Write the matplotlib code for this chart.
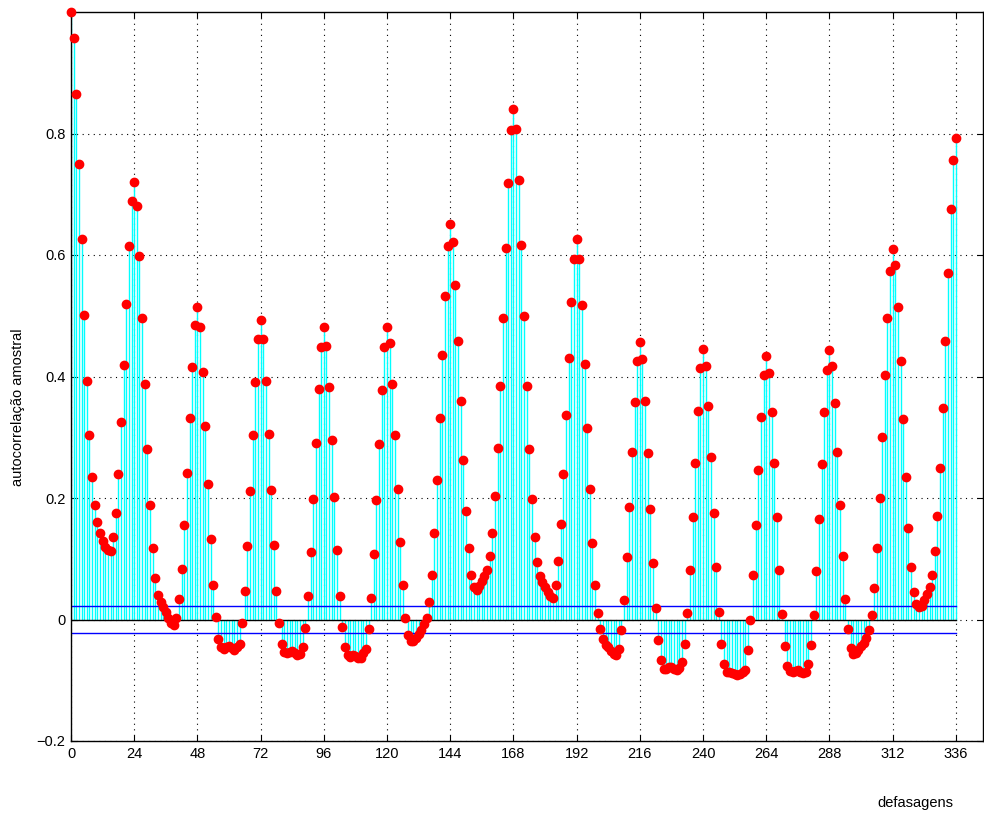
import matplotlib
matplotlib.use("Agg")
import matplotlib.pyplot as plt
import numpy as np

plt.rcParams['font.family'] = ['Liberation Sans', 'DejaVu Sans']

# sample autocorrelation, lags 0..336
acf_0_47 = [1.000, 0.957, 0.865, 0.750, 0.626, 0.502, 0.393, 0.303, 0.235, 0.189,
            0.160, 0.143, 0.130, 0.120, 0.114, 0.113, 0.135, 0.176, 0.240, 0.325,
            0.419, 0.520, 0.614, 0.689, 0.720, 0.681, 0.598, 0.496, 0.387, 0.281,
            0.189, 0.118, 0.069, 0.040, 0.028, 0.020, 0.012, 0.003, -0.005, -0.009,
            0.002, 0.033, 0.083, 0.155, 0.241, 0.331, 0.416, 0.485]
acf_48_95 = [0.515, 0.481, 0.408, 0.319, 0.223, 0.133, 0.057, 0.004, -0.032, -0.046,
             -0.048, -0.046, -0.043, -0.047, -0.051, -0.046, -0.040, -0.006, 0.047, 0.121,
             0.211, 0.303, 0.391, 0.461, 0.493, 0.462, 0.393, 0.305, 0.213, 0.123,
             0.047, -0.006, -0.040, -0.053, -0.055, -0.053, -0.052, -0.055, -0.058, -0.057,
             -0.045, -0.014, 0.038, 0.111, 0.199, 0.291, 0.379, 0.449]
acf_96_143 = [0.481, 0.451, 0.382, 0.296, 0.202, 0.114, 0.039, -0.013, -0.046, -0.058,
              -0.062, -0.058, -0.060, -0.063, -0.063, -0.055, -0.048, -0.016, 0.035, 0.108,
              0.196, 0.289, 0.377, 0.448, 0.481, 0.455, 0.388, 0.304, 0.215, 0.128,
              0.056, 0.003, -0.025, -0.035, -0.036, -0.030, -0.024, -0.017, -0.008, 0.003,
              0.028, 0.074, 0.143, 0.229, 0.331, 0.435, 0.533, 0.614]
acf_144_191 = [0.651, 0.621, 0.550, 0.459, 0.360, 0.263, 0.179, 0.117, 0.074, 0.054,
               0.049, 0.055, 0.063, 0.072, 0.081, 0.104, 0.143, 0.204, 0.283, 0.384,
               0.497, 0.612, 0.719, 0.805, 0.841, 0.807, 0.723, 0.617, 0.500, 0.385,
               0.280, 0.198, 0.135, 0.095, 0.072, 0.062, 0.053, 0.045, 0.038, 0.035,
               0.056, 0.097, 0.158, 0.240, 0.336, 0.431, 0.522, 0.594]
acf_192_239 = [0.626, 0.593, 0.517, 0.420, 0.315, 0.214, 0.126, 0.057, 0.010, -0.016,
               -0.032, -0.042, -0.046, -0.052, -0.056, -0.058, -0.048, -0.018, 0.032, 0.103,
               0.186, 0.275, 0.358, 0.426, 0.456, 0.428, 0.359, 0.274, 0.182, 0.093,
               0.019, -0.034, -0.067, -0.081, -0.081, -0.078, -0.078, -0.081, -0.083, -0.080,
               -0.070, -0.040, 0.011, 0.082, 0.168, 0.258, 0.344, 0.414]
acf_240_287 = [0.445, 0.417, 0.351, 0.267, 0.175, 0.086, 0.013, -0.041, -0.074, -0.086,
               -0.087, -0.088, -0.090, -0.092, -0.090, -0.086, -0.083, -0.050, 0.000, 0.073,
               0.155, 0.246, 0.333, 0.402, 0.434, 0.406, 0.341, 0.258, 0.169, 0.082,
               0.009, -0.044, -0.076, -0.085, -0.087, -0.085, -0.083, -0.086, -0.088, -0.086,
               -0.073, -0.042, 0.008, 0.080, 0.165, 0.256, 0.341, 0.411]
acf_288_336 = [0.444, 0.418, 0.356, 0.276, 0.189, 0.104, 0.034, -0.015, -0.047, -0.056,
               -0.055, -0.050, -0.044, -0.038, -0.030, -0.018, 0.008, 0.052, 0.117, 0.200,
               0.300, 0.402, 0.497, 0.573, 0.610, 0.583, 0.515, 0.426, 0.330, 0.234,
               0.151, 0.087, 0.045, 0.025, 0.020, 0.022, 0.032, 0.042, 0.054, 0.074,
               0.112, 0.170, 0.250, 0.348, 0.458, 0.570, 0.675, 0.756, 0.792]

acf = acf_0_47 + acf_48_95 + acf_96_143 + acf_144_191 + acf_192_239 + acf_240_287 + acf_288_336
lags = list(range(len(acf)))
conf_bound = 0.022
xticks = list(range(0, 337, 24))
yticks = [-0.2, 0, 0.2, 0.4, 0.6, 0.8]
ytick_labels = ['\u22120.2', '0', '0.2', '0.4', '0.6', '0.8']

fig = plt.figure(figsize=(9.84, 8.14), dpi=100)
ax = fig.add_axes([71/984, 73/814, 912/984, 729/814])

markerline, stemlines, baseline = ax.stem(lags, acf, linefmt='c-', markerfmt='o', basefmt='k-')
stemlines.set_color('#00ffff')
stemlines.set_linewidth(1.0)
markerline.set_markerfacecolor('#ff0000')
markerline.set_markeredgecolor('#ff0000')
markerline.set_markersize(6)
markerline.set_zorder(3)
markerline.set_clip_on(False)
baseline.set_color('black')
baseline.set_linewidth(1.0)

ax.plot([lags[0], lags[-1]], [conf_bound, conf_bound], color='#0000ff', linewidth=1.0)
ax.plot([lags[0], lags[-1]], [-conf_bound, -conf_bound], color='#0000ff', linewidth=1.0)

ax.set_xlim(0, 346.3)
ax.set_ylim(-0.2, 1.0)
ax.set_xticks(xticks)
ax.set_xticklabels([str(t) for t in xticks])
ax.set_yticks(yticks)
ax.set_yticklabels(ytick_labels)
ax.grid(True, color='black', linestyle=(0, (1, 4)), linewidth=0.8)
ax.set_axisbelow(True)
ax.tick_params(direction='in', length=4, top=True, right=True, labelsize=10.5, pad=4)
for s in ax.spines.values():
    s.set_linewidth(1.0)

fig.text(0.018, 0.5, 'autocorrelação amostral', rotation=90, ha='center', va='center', fontsize=10.5)
fig.text(915/984, 1 - 803/814, 'defasagens', ha='center', va='center', fontsize=10.5)

fig.savefig('out.png', dpi=100)
